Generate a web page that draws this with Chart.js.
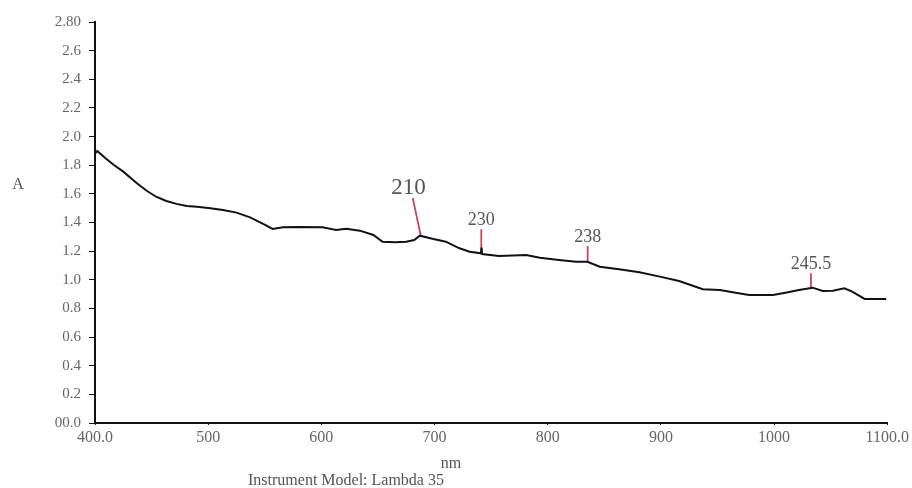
<!DOCTYPE html>
<html>
<head>
<meta charset="utf-8">
<script src="https://cdn.jsdelivr.net/npm/chart.js@4/dist/chart.umd.min.js"></script>
<style>
  html, body { margin: 0; padding: 0; background: #fff; }
  #wrap { width: 912px; height: 488px; }
</style>
</head>
<body>
<div id="wrap"><canvas id="spectrum"></canvas></div>
<script>
// spectrum (nm, A)
const wavelengths = [400, 402, 409, 417, 425, 437, 446, 454, 463, 472, 481, 490, 502, 513, 525, 537, 549, 557,
    566, 580, 601, 613, 622, 634, 646, 654, 665, 675, 682, 687, 699, 710, 722, 731, 741, 741.5, 742, 757,
    775, 781, 793, 810, 825, 835, 846, 863, 881, 899, 916, 937, 952, 966, 978, 999, 1010, 1022, 1034,
    1043, 1052, 1062, 1069, 1080, 1099];
const absorbance = [1.88, 1.90, 1.85, 1.80, 1.755, 1.674, 1.62, 1.58, 1.55, 1.53, 1.515, 1.51, 1.50, 1.487, 1.469, 1.436, 1.388, 1.355,
    1.366, 1.368, 1.366, 1.348, 1.357, 1.343, 1.313, 1.266, 1.262, 1.266, 1.278, 1.308, 1.285, 1.266, 1.22, 1.196, 1.185, 1.225, 1.18, 1.166,
    1.171, 1.173, 1.154, 1.138, 1.126, 1.126, 1.091, 1.073, 1.052, 1.022, 0.992, 0.934, 0.929, 0.91, 0.894, 0.894, 0.91, 0.929, 0.945,
    0.922, 0.924, 0.94, 0.917, 0.866, 0.866];

// peak markers: label text, label position, and the pink leader from top to bottom
const peakLabels = ['210', '230', '238', '245.5'];
const peakLabelX = [677, 741.3, 835.3, 1032.5];
const peakLabelY = [1.641, 1.418, 1.299, 1.110];
const leaderTopX = [680.7, 741.3, 835.3, 1032.5];
const leaderTopY = [1.571, 1.353, 1.236, 1.045];
const leaderEndX = [687.7, 741.3, 835.3, 1032.5];
const leaderEndY = [1.313, 1.196, 1.126, 0.943];

const xTicks = [400, 500, 600, 700, 800, 900, 1000, 1100];
const yTicks = [0, 0.2, 0.4, 0.6, 0.8, 1.0, 1.2, 1.4, 1.6, 1.8, 2.0, 2.2, 2.4, 2.6, 2.8];

const serif = '"Liberation Serif", "DejaVu Serif", serif';

const datasets = [{
    data: wavelengths.map((w, i) => ({ x: w, y: absorbance[i] })),
    borderColor: '#111',
    borderWidth: 2,
    pointRadius: 0,
    tension: 0,
    order: 0
}];
peakLabels.forEach((p, i) => {
    datasets.push({
        data: [{ x: leaderTopX[i], y: leaderTopY[i] }, { x: leaderEndX[i], y: leaderEndY[i] }],
        borderColor: '#c8475f',
        borderWidth: 1.8,
        pointRadius: 0,
        order: 1
    });
});

// peak numbers and the two captions under the x axis
const textPlugin = {
    id: 'texts',
    afterDraw(chart) {
        const ctx = chart.ctx;
        const xs = chart.scales.x, ys = chart.scales.y;
        ctx.save();
        ctx.fillStyle = '#555';
        ctx.textAlign = 'center';
        ctx.textBaseline = 'middle';
        peakLabels.forEach((p, i) => {
            ctx.font = (i === 0 ? '23px ' : '18px ') + serif;
            ctx.fillText(p, xs.getPixelForValue(peakLabelX[i]), ys.getPixelForValue(peakLabelY[i]));
        });
        ctx.font = '16px ' + serif;
        ctx.fillText('A', 18, 185);
        ctx.fillText('nm', 451, 464);
        ctx.textAlign = 'left';
        ctx.fillText('Instrument Model: Lambda 35', 248, 481);
        ctx.restore();
    }
};

new Chart(document.getElementById('spectrum'), {
    type: 'line',
    data: { datasets },
    plugins: [textPlugin],
    options: {
        responsive: true,
        maintainAspectRatio: false,
        animation: false,
        layout: { padding: { top: 22, right: 24, left: 0, bottom: 0 } },
        plugins: { legend: { display: false }, tooltip: { enabled: false } },
        scales: {
            x: {
                type: 'linear',
                min: 400,
                max: 1100,
                afterFit: s => { s.height = 65; },
                afterBuildTicks: s => { s.ticks = xTicks.map(v => ({ value: v })); },
                border: { color: '#111', width: 2 },
                grid: { drawOnChartArea: false, drawTicks: true, tickLength: 2, color: '#111' },
                ticks: {
                    color: '#666',
                    font: { family: serif, size: 16 },
                    padding: 3,
                    maxRotation: 0,
                    callback: v => (v === 400 || v === 1100) ? v.toFixed(1) : String(v)
                }
            },
            y: {
                min: 0,
                max: 2.8,
                afterFit: s => { s.width = 95; },
                afterBuildTicks: s => { s.ticks = yTicks.map(v => ({ value: v })); },
                border: { color: '#111', width: 2 },
                grid: { drawOnChartArea: false, drawTicks: true, tickLength: 6, color: '#111' },
                ticks: {
                    color: '#666',
                    font: { family: serif, size: 15 },
                    padding: 8,
                    callback: v => v === 0 ? '00.0' : (Math.abs(v - 2.8) < 1e-6 ? '2.80' : v.toFixed(1))
                }
            }
        }
    }
});
</script>
</body>
</html>
